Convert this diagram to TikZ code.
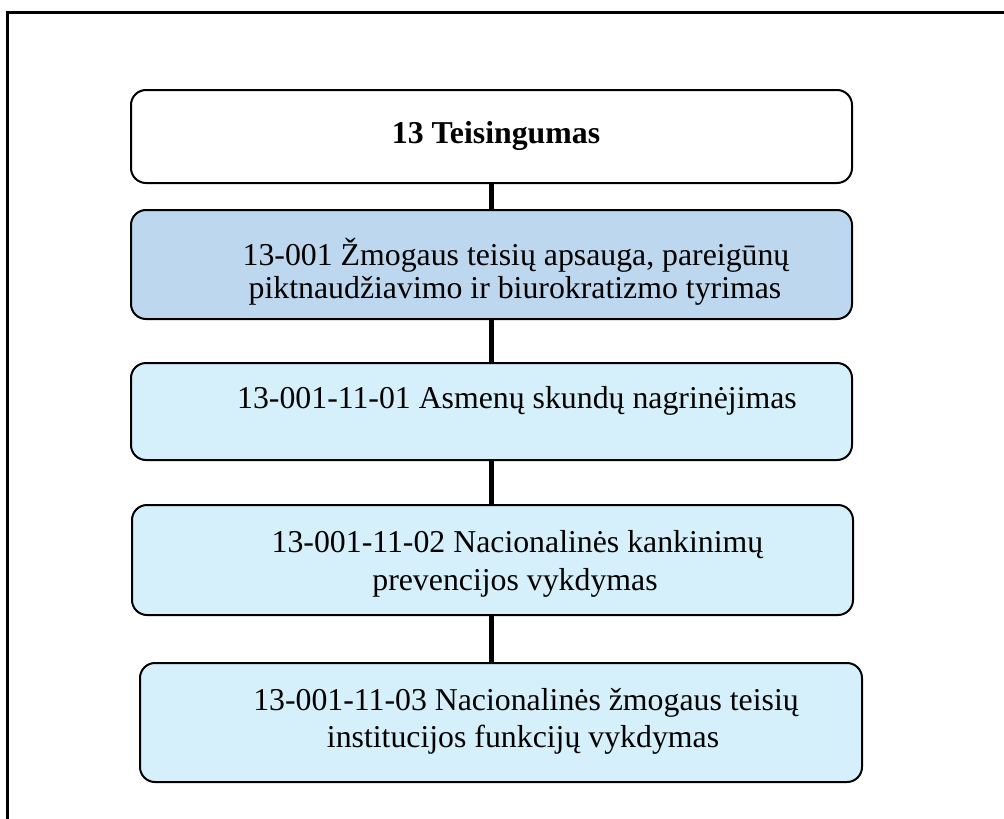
\documentclass[tikz,border=0pt]{standalone}
\usepackage{fontspec}
\setmainfont{Liberation Serif}
\definecolor{boxblue}{HTML}{BDD7EE}
\definecolor{boxcyan}{HTML}{D5F0FB}
\begin{document}
\begin{tikzpicture}[x=1pt,y=-1pt,
  box/.style={draw=black,line width=2pt,rounded corners=15pt,inner sep=0pt,minimum width=721pt},
  txt/.style={anchor=base,inner sep=0pt,font=\fontsize{31.8}{36}\selectfont},
  link/.style={line width=4.5pt,black}]
\useasboundingbox (0,0) rectangle (1004,819);
% outer frame (top and left edges visible)
\coordinate (fa) at (7.5,819);
\coordinate (fb) at (7.5,12.5);
\coordinate (fc) at (1004,12.5);
\draw[line width=2.2pt] (fa) -- (fb) -- (fc);
% boxes
\node[box,fill=white,minimum height=93pt] (b1) at (491.5,136.5) {};
\node[box,fill=boxblue,minimum height=109pt] (b2) at (491.5,264.5) {};
\node[box,fill=boxcyan,minimum height=97pt] (b3) at (491.5,411.5) {};
\node[box,fill=boxcyan,minimum height=110pt] (b4) at (492.5,560) {};
\node[box,fill=boxcyan,minimum height=119pt,minimum width=722pt] (b5) at (501,722.5) {};
% connectors
\draw[link] (b1.south) -- (b2.north);
\draw[link] (b2.south) -- (b3.north);
\draw[link] (b3.south) -- (b3.south |- b4.north);
\draw[link] (b3.south |- b4.south) -- (b3.south |- b5.north);
% texts
\node[txt,font=\fontsize{31.8}{36}\selectfont\bfseries] (t1) at (496,143) {13 Teisingumas};
\node[txt] (t2a) at (516,265) {13-001 Žmogaus teisių apsauga, pareigūnų};
\node[txt] (t2b) at (515,298) {piktnaudžiavimo ir biurokratizmo tyrimas};
\node[txt] (t3) at (517,408) {13-001-11-01 Asmenų skundų nagrinėjimas};
\node[txt] (t4a) at (517.5,552) {13-001-11-02 Nacionalinės kankinimų};
\node[txt] (t4b) at (515,590) {prevencijos vykdymas};
\node[txt] (t5a) at (526,710) {13-001-11-03 Nacionalinės žmogaus teisių};
\node[txt] (t5b) at (523,747) {institucijos funkcijų vykdymas};
\end{tikzpicture}
\end{document}
